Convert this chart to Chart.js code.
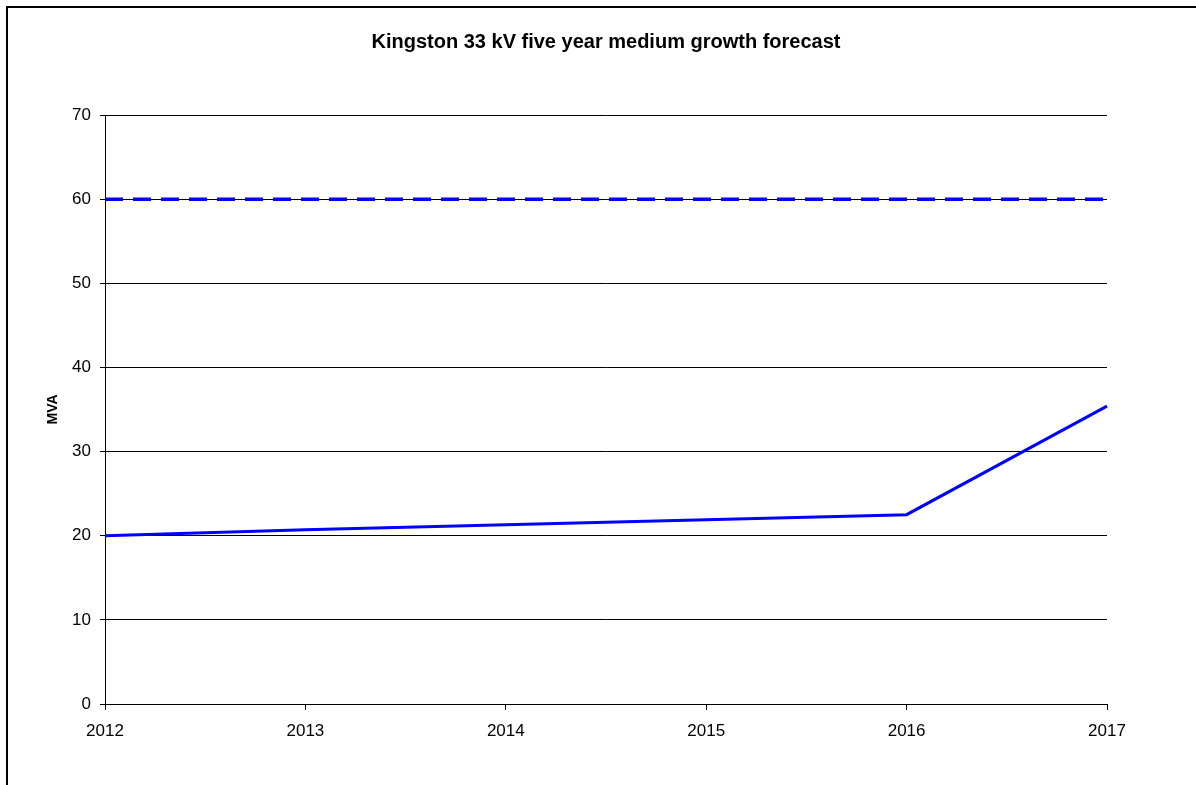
<!DOCTYPE html>
<html>
<head>
<meta charset="utf-8">
<script src="https://cdn.jsdelivr.net/npm/chart.js@4/dist/chart.umd.min.js"></script>
<style>
  html, body { margin: 0; padding: 0; background: #fff; overflow: hidden; }
  #wrap { position: relative; width: 1196px; height: 785px; }
  #okvir {
    position: absolute; left: 6px; top: 6px; width: 1400px; height: 1000px;
    border: 2px solid #000; box-sizing: border-box; pointer-events: none;
  }
  #grafik { position: absolute; left: 0; top: 0; }
</style>
</head>
<body>
<div id="wrap">
  <div id="okvir"></div>
  <canvas id="grafik" width="1196" height="785"></canvas>
</div>
<script>
// Godine prognoze
const godine = ['2012', '2013', '2014', '2015', '2016', '2017'];
// Prognozirano opterecenje (MVA), srednji rast
const opterecenje = [20.0, 20.7, 21.3, 21.9, 22.5, 35.4];
// Kapacitet transformatora (MVA)
const kapacitet = [60, 60, 60, 60, 60, 60];

const naslov = 'Kingston 33 kV five year medium growth forecast';
const font = 'Liberation Sans, Arial, sans-serif';

new Chart(document.getElementById('grafik').getContext('2d'), {
    type: 'line',
    data: {
        labels: godine,
        datasets: [
            {
                label: 'Kapacitet',
                data: kapacitet,
                borderColor: '#0000ff',
                borderWidth: 3.5,
                borderDash: [18, 10],
                borderCapStyle: 'butt',
                pointRadius: 0,
                fill: false,
                tension: 0
            },
            {
                label: 'Opterecenje',
                data: opterecenje,
                borderColor: '#0000ff',
                borderWidth: 3,
                pointRadius: 0,
                fill: false,
                tension: 0
            }
        ]
    },
    options: {
        responsive: false,
        animation: false,
        layout: { padding: { left: 0, right: 89, top: 0, bottom: 0 } },
        plugins: {
            legend: { display: false },
            tooltip: { enabled: false },
            title: {
                display: true,
                text: naslov,
                fullSize: false,
                color: '#000',
                font: { family: font, size: 20, weight: 'bold' },
                padding: { top: 30, bottom: 61 }
            }
        },
        scales: {
            x: {
                type: 'category',
                offset: false,
                afterFit: function(s) { s.height = 81; },
                grid: { drawOnChartArea: false, drawTicks: true, tickLength: 6, color: '#000' },
                border: { display: true, color: '#000', width: 1 },
                ticks: { color: '#000', padding: 11, maxRotation: 0, font: { family: font, size: 17 } }
            },
            y: {
                min: 0,
                max: 70,
                afterFit: function(s) { s.width = 105; },
                grid: { color: '#000', lineWidth: 1, tickLength: 5 },
                border: { display: true, color: '#000', width: 1 },
                ticks: { stepSize: 10, color: '#000', padding: 9, font: { family: font, size: 17 } },
                title: {
                    display: true,
                    text: 'MVA',
                    color: '#000',
                    font: { family: font, size: 14, weight: 'bold' },
                    padding: { top: 45, bottom: 0 }
                }
            }
        }
    }
});
</script>
</body>
</html>
